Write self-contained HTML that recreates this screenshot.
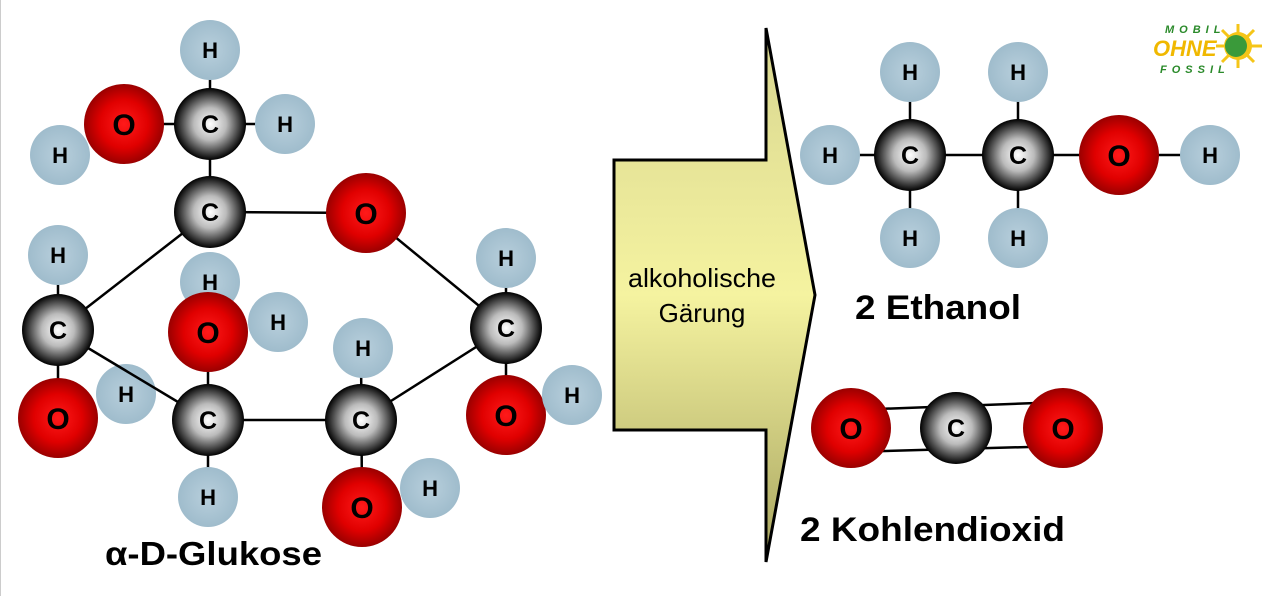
<!DOCTYPE html>
<html><head><meta charset="utf-8"><style>
html,body{margin:0;padding:0;background:#fff;}
svg{display:block}
text{font-family:"Liberation Sans",Arial,sans-serif;}
</style></head><body>
<svg width="1281" height="596" viewBox="0 0 1281 596" xmlns="http://www.w3.org/2000/svg">
<defs>
<radialGradient id="gc" cx="50%" cy="50%" r="50%"><stop offset="0" stop-color="#fff"/><stop offset="0.45" stop-color="#bbb"/><stop offset="0.85" stop-color="#333"/><stop offset="1" stop-color="#000"/></radialGradient>
<radialGradient id="go" cx="50%" cy="50%" r="50%"><stop offset="0" stop-color="#ff1a1a"/><stop offset="0.6" stop-color="#e00000"/><stop offset="1" stop-color="#9a0000"/></radialGradient>
<radialGradient id="gh" cx="50%" cy="50%" r="50%"><stop offset="0" stop-color="#b8cfdc"/><stop offset="1" stop-color="#9fbccc"/></radialGradient>
<linearGradient id="ga" x1="0" y1="0" x2="0" y2="1"><stop offset="0" stop-color="#d8d690"/><stop offset="0.5" stop-color="#f5f3a0"/><stop offset="1" stop-color="#a8a560"/></linearGradient>
<g id="C"><circle r="36" fill="url(#gc)"/><text y="9" text-anchor="middle" font-size="25" font-weight="bold">C</text></g>
<g id="O"><circle r="40" fill="url(#go)"/><text y="11" text-anchor="middle" font-size="30" font-weight="bold">O</text></g>
<g id="H"><circle r="30" fill="url(#gh)"/><text y="8" text-anchor="middle" font-size="22" font-weight="bold">H</text></g>
</defs>
<line x1="0.5" y1="0" x2="0.5" y2="596" stroke="#ccc"/>
<use href="#H" x="126" y="394"/>
<g stroke="#000" stroke-width="2.5">
<line x1="210" y1="50" x2="210" y2="124"/><line x1="124" y1="124" x2="285" y2="124"/>
<line x1="210" y1="124" x2="210" y2="212"/><line x1="210" y1="212" x2="366" y2="213"/>
<line x1="366" y1="213" x2="506" y2="328"/><line x1="210" y1="212" x2="58" y2="330"/>
<line x1="58" y1="330" x2="208" y2="420"/><line x1="208" y1="420" x2="361" y2="420"/>
<line x1="361" y1="420" x2="506" y2="328"/><line x1="58" y1="255" x2="58" y2="418"/>
<line x1="506" y1="258" x2="506" y2="415"/><line x1="208" y1="332" x2="208" y2="497"/>
<line x1="361" y1="348" x2="362" y2="507"/>
<line x1="830" y1="155" x2="1210" y2="155"/><line x1="910" y1="72" x2="910" y2="238"/><line x1="1018" y1="72" x2="1018" y2="238"/>
<line x1="851" y1="410" x2="1063" y2="402"/><line x1="851" y1="452" x2="1063" y2="446"/>
</g>
<use href="#H" x="210" y="50"/><use href="#O" x="124" y="124"/><use href="#H" x="285" y="124"/><use href="#H" x="60" y="155"/><use href="#C" x="210" y="124"/>
<use href="#C" x="210" y="212"/><use href="#O" x="366" y="213"/>
<use href="#H" x="58" y="255"/><use href="#H" x="506" y="258"/><use href="#H" x="210" y="282"/>
<use href="#C" x="58" y="330"/><use href="#O" x="208" y="332"/><use href="#H" x="278" y="322"/><use href="#C" x="506" y="328"/>
<use href="#H" x="363" y="348"/>
<use href="#O" x="58" y="418"/><use href="#C" x="208" y="420"/><use href="#C" x="361" y="420"/><use href="#O" x="506" y="415"/><use href="#H" x="572" y="395"/>
<use href="#H" x="208" y="497"/><use href="#O" x="362" y="507"/><use href="#H" x="430" y="488"/>
<text x="105" y="565" font-size="33" font-weight="bold" textLength="217" lengthAdjust="spacingAndGlyphs">α-D-Glukose</text>
<polygon points="614,160 766,160 766,28 815,295 766,562 766,430 614,430" fill="url(#ga)" stroke="#000" stroke-width="3"/>
<text x="702" y="287" text-anchor="middle" font-size="26" textLength="148" lengthAdjust="spacingAndGlyphs">alkoholische</text>
<text x="702" y="322" text-anchor="middle" font-size="26">Gärung</text>
<use href="#H" x="910" y="72"/><use href="#H" x="1018" y="72"/><use href="#H" x="830" y="155"/><use href="#C" x="910" y="155"/><use href="#C" x="1018" y="155"/><use href="#O" x="1119" y="155"/><use href="#H" x="1210" y="155"/><use href="#H" x="910" y="238"/><use href="#H" x="1018" y="238"/>
<text x="855" y="319" font-size="34" font-weight="bold" textLength="166" lengthAdjust="spacingAndGlyphs">2 Ethanol</text>
<use href="#O" x="851" y="428"/><use href="#C" x="956" y="428"/><use href="#O" x="1063" y="428"/>
<text x="800" y="541" font-size="34" font-weight="bold" textLength="265" lengthAdjust="spacingAndGlyphs">2 Kohlendioxid</text>
<g>
<circle cx="1238" cy="46" r="14" fill="#f5c518"/>
<g stroke="#f5c518" stroke-width="3"><line x1="1238" y1="24" x2="1238" y2="68"/><line x1="1216" y1="46" x2="1262" y2="46"/><line x1="1222" y1="30" x2="1254" y2="62"/><line x1="1254" y1="30" x2="1222" y2="62"/></g>
<circle cx="1236" cy="46" r="11" fill="#3a9a3a"/>
<text x="1165" y="33" font-size="11" font-weight="bold" font-style="italic" fill="#2a8a2a" letter-spacing="5">MOBIL</text>
<text x="1153" y="56" font-size="22" font-weight="bold" font-style="italic" fill="#f0b800">OHNE</text>
<text x="1160" y="73" font-size="11" font-weight="bold" font-style="italic" fill="#2a8a2a" letter-spacing="5">FOSSIL</text>
</g>
</svg>
</body></html>
